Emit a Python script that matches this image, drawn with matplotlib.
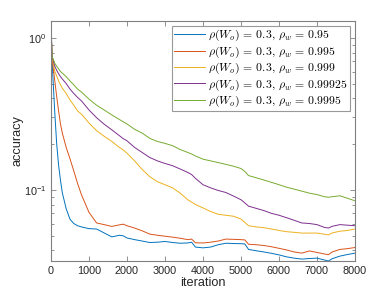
import matplotlib
matplotlib.use("Agg")
import matplotlib.pyplot as plt
from matplotlib.ticker import LogLocator, NullFormatter, FixedLocator

plt.rcParams['font.family'] = ['Liberation Sans', 'DejaVu Sans']
plt.rcParams['mathtext.fontset'] = 'cm'

iterations = [0, 25, 50, 100, 150, 200, 250, 300, 400, 500, 600, 700, 800,
              1000, 1200, 1400, 1600, 1800, 1900, 2000, 2200, 2400, 2600, 2800,
              3000, 3200, 3400, 3600, 3700, 3800, 4000, 4200, 4400, 4600, 4800,
              5000, 5100, 5200, 5400, 5600, 5800, 6000, 6200, 6400, 6600, 6800,
              7000, 7200, 7300, 7400, 7600, 7800, 8000]

acc_095 = [1.27, 0.78, 0.55, 0.32, 0.2, 0.145, 0.115, 0.095, 0.075, 0.064, 0.060, 0.058, 0.057,
           0.0555, 0.0552, 0.052, 0.0490, 0.0502, 0.0498, 0.0482, 0.0470, 0.0460, 0.0450, 0.0452,
           0.0457, 0.0450, 0.0445, 0.0447, 0.0452, 0.0420, 0.0415, 0.0420, 0.0435, 0.0445, 0.0443,
           0.0442, 0.0440, 0.0405, 0.0397, 0.0390, 0.0382, 0.0373, 0.0362, 0.0355, 0.0350, 0.0353,
           0.0355, 0.0345, 0.0340, 0.0352, 0.0366, 0.0375, 0.0383]

acc_0995 = [1.27, 0.76, 0.66, 0.52, 0.41, 0.33, 0.27, 0.235, 0.19, 0.16, 0.133, 0.11, 0.093,
            0.071, 0.0605, 0.0590, 0.0574, 0.0588, 0.0594, 0.0580, 0.0560, 0.0537, 0.0511, 0.0502,
            0.0495, 0.0488, 0.0480, 0.0470, 0.0474, 0.0448, 0.0447, 0.0452, 0.0460, 0.0474, 0.0472,
            0.0470, 0.0468, 0.0438, 0.0435, 0.0430, 0.0422, 0.0412, 0.0402, 0.0390, 0.0383, 0.0396,
            0.0387, 0.0378, 0.0374, 0.0390, 0.0405, 0.0410, 0.0417]

acc_0999 = [1.27, 0.75, 0.70, 0.60, 0.56, 0.52, 0.49, 0.465, 0.43, 0.39, 0.36, 0.33, 0.315,
            0.275, 0.245, 0.225, 0.208, 0.19, 0.183, 0.174, 0.155, 0.136, 0.122, 0.113,
            0.108, 0.103, 0.095, 0.086, 0.083, 0.080, 0.076, 0.072, 0.069, 0.068, 0.067,
            0.0642, 0.061, 0.058, 0.057, 0.0563, 0.0552, 0.054, 0.053, 0.0525, 0.0519, 0.0519,
            0.0519, 0.051, 0.0505, 0.052, 0.0534, 0.054, 0.0552]

acc_099925 = [1.27, 0.76, 0.72, 0.65, 0.61, 0.58, 0.555, 0.535, 0.50, 0.46, 0.43, 0.405, 0.385,
              0.335, 0.298, 0.27, 0.248, 0.227, 0.217, 0.21, 0.19, 0.176, 0.163, 0.155,
              0.149, 0.144, 0.137, 0.130, 0.126, 0.119, 0.108, 0.103, 0.099, 0.096, 0.091,
              0.086, 0.082, 0.078, 0.0755, 0.073, 0.070, 0.068, 0.0655, 0.063, 0.0605, 0.060,
              0.059, 0.0565, 0.056, 0.0575, 0.059, 0.0585, 0.058]

acc_09995 = [1.27, 0.76, 0.73, 0.68, 0.65, 0.625, 0.60, 0.585, 0.555, 0.52, 0.49, 0.46, 0.44,
             0.395, 0.36, 0.335, 0.311, 0.29, 0.28, 0.271, 0.25, 0.236, 0.218, 0.208,
             0.202, 0.195, 0.184, 0.176, 0.172, 0.167, 0.159, 0.155, 0.151, 0.147, 0.143,
             0.138, 0.132, 0.124, 0.12, 0.116, 0.112, 0.108, 0.104, 0.101, 0.098, 0.095,
             0.093, 0.090, 0.0893, 0.090, 0.0913, 0.088, 0.0846]

labels = [r'$\rho(W_o)\, =\, 0.3,\, \rho_w\, =\, 0.95$',
          r'$\rho(W_o)\, =\, 0.3,\, \rho_w\, =\, 0.995$',
          r'$\rho(W_o)\, =\, 0.3,\, \rho_w\, =\, 0.999$',
          r'$\rho(W_o)\, =\, 0.3,\, \rho_w\, =\, 0.99925$',
          r'$\rho(W_o)\, =\, 0.3,\, \rho_w\, =\, 0.9995$']
colors = ['#0072BD', '#D95319', '#EDB120', '#7E2F8E', '#77AC30']
series = [acc_095, acc_0995, acc_0999, acc_099925, acc_09995]

fig = plt.figure(figsize=(3.92, 2.94), dpi=100)
ax = fig.add_axes([51/392, 1-261/294, 304/392, 240/294])
for s, c, l in zip(series, colors, labels):
    ax.plot(iterations, s, color=c, lw=0.7, label=l)

ax.set_yscale('log')
ax.set_xlim(0, 8000)
ax.set_ylim(0.034, 1.29)
ax.xaxis.set_major_locator(FixedLocator(range(0, 8001, 1000)))
ax.yaxis.set_major_locator(LogLocator(base=10, numticks=10))
ax.yaxis.set_minor_locator(LogLocator(base=10, subs=range(2, 10), numticks=10))
ax.yaxis.set_minor_formatter(NullFormatter())

gray = '#808080'
for sp in ax.spines.values():
    sp.set_color(gray)
    sp.set_linewidth(0.8)
ax.tick_params(which='both', direction='in', top=True, right=True, color=gray,
               labelcolor='#262626', labelsize=7.8, width=0.6)
ax.tick_params(which='major', length=3.5)
ax.tick_params(which='minor', length=2)

ax.set_xlabel('iteration', fontsize=9.2, color='#262626', labelpad=0.5)
ax.set_ylabel('accuracy', fontsize=9.2, color='#262626', labelpad=0)

leg = ax.legend(loc='upper right', fontsize=8.5, frameon=True, fancybox=False,
                edgecolor=gray, handlelength=2.6, handletextpad=0.3,
                borderpad=0.15, labelspacing=0.1, borderaxespad=0.45)
leg.get_frame().set_linewidth(0.8)

fig.savefig('out.png', dpi=100)
